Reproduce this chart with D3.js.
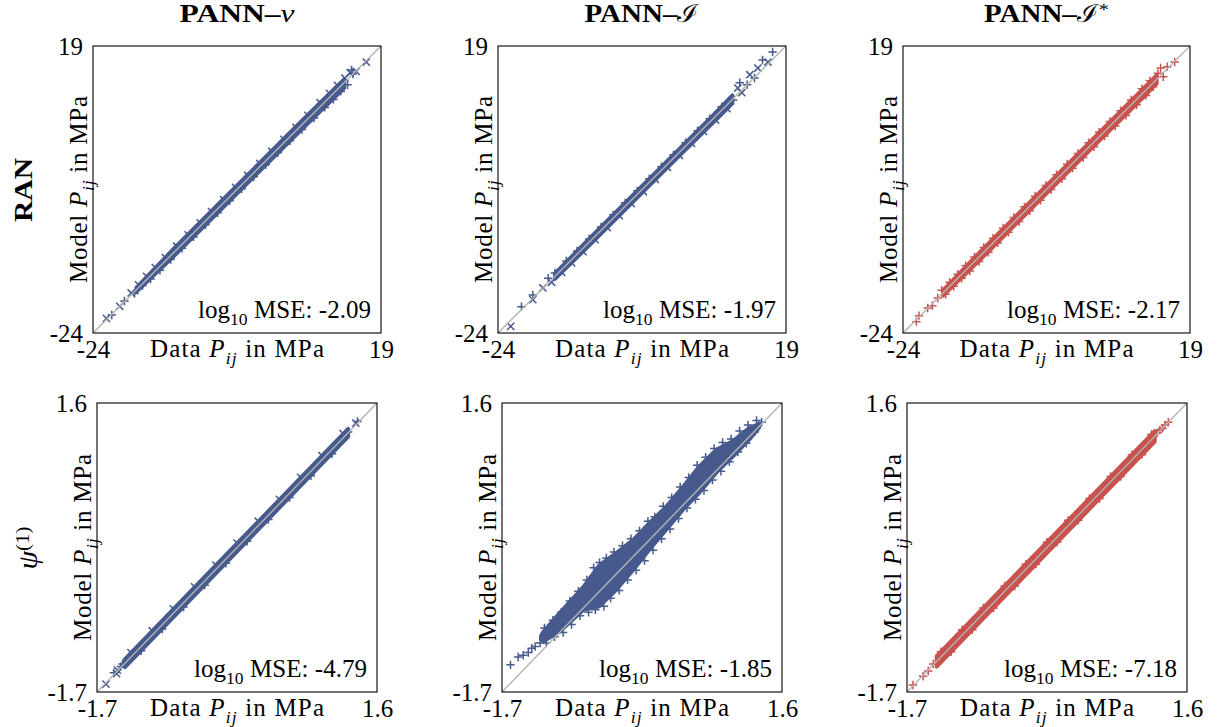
<!DOCTYPE html>
<html><head><meta charset="utf-8">
<script src="https://cdn.jsdelivr.net/npm/d3@7"></script>
<style>
body{margin:0;background:#fff}
svg{display:block}
</style>
</head><body>
<svg id="chart" width="1218" height="727" font-family="Liberation Serif, serif"></svg>
<script>
// ---------------- DATA ----------------
const colTitles = ["PANN–ν", "PANN–ℐ", "PANN–ℐ*"];
const rowTitles = ["RAN", "ψ(1)"];
const topDomain = [-24, 19];
const bottomDomain = [-1.7, 1.6];
const topTicks = [-24, 19];
const bottomTicks = [-1.7, 1.6];
const mseValues = [-2.09, -1.97, -2.17, -4.79, -1.85, -7.18];

// Panel 1: RAN / PANN-nu  (dense band core + fringe points)
const p1BandX  = [-17.5, -12, -6, 0, 6, 10, 13.5];
const p1BandLo = [-17.8, -12.55, -6.6, -0.6, 5.35, 9.3, 12.7];
const p1BandHi = [-17.2, -11.45, -5.4, 0.6, 6.6, 10.6, 14.0];
const p1Data  = [-22.0,-21.2,-20.0,-19.3,-18.3,-17.8,-17.2,-16.6,-16.0,-15.4,-14.7,-14.0,-13.2,-12.4,-11.5,-10.7,-9.8,-9.0,-8.0,-7.2,-6.3,-5.4,-4.5,-3.6,-2.7,-1.8,-0.9,0.0,0.9,1.8,2.7,3.6,4.5,5.4,6.3,7.2,8.1,9.0,9.9,10.6,11.3,11.9,12.5,13.0,13.6,14.0,14.4,14.8,15.3,14.6,16.8];
const p1Model = [-21.8,-21.3,-20.0,-19.2,-18.0,-18.1,-16.8,-16.9,-15.5,-15.9,-14.2,-14.6,-12.7,-13.0,-11.0,-11.3,-9.3,-9.6,-7.5,-7.8,-5.8,-6.0,-4.0,-4.2,-2.2,-2.4,-0.4,-0.6,1.4,1.2,3.2,3.0,5.0,4.8,6.8,6.5,8.6,8.2,10.5,9.8,11.9,11.0,13.1,12.2,14.2,13.2,15.0,14.8,15.2,15.4,16.6];

// Panel 2: RAN / PANN-I
const p2BandX  = [-15.5, -10, -4, 2, 8, 11];
const p2BandLo = [-15.9, -10.5, -4.5, 1.5, 7.4, 10.4];
const p2BandHi = [-15.1, -9.5, -3.5, 2.5, 8.5, 11.6];
const p2Data  = [-22.1,-20.5,-18.8,-18.8,-17.3,-16.5,-16.0,-15.5,-14.5,-13.8,-13.0,-12.2,-11.3,-10.4,-9.5,-8.6,-7.7,-6.8,-5.9,-5.0,-4.1,-3.2,-2.3,-1.4,-0.5,0.4,1.3,2.2,3.1,4.0,4.9,5.8,6.7,7.6,8.5,9.4,10.2,11.1,11.8,12.1,12.4,13.2,13.6,14.3,14.8,15.5,16.3,17.0];
const p2Model = [-23.0,-20.05,-19.0,-18.3,-17.25,-15.8,-16.4,-15.0,-14.9,-13.2,-13.5,-11.7,-11.8,-9.9,-10.0,-8.1,-8.2,-6.3,-6.4,-4.5,-4.6,-2.7,-2.8,-0.9,-1.0,0.9,0.8,2.7,2.6,4.5,4.4,6.3,6.2,8.1,7.9,9.9,9.6,10.9,12.7,13.5,12.0,13.2,14.7,14.2,15.7,16.9,16.6,18.1];

// Panel 3: RAN / PANN-I*
const p3BandX  = [-18, -12, -6, 0, 6, 12, 14];
const p3BandLo = [-18.4, -12.6, -6.6, -0.6, 5.4, 11.3, 13.4];
const p3BandHi = [-17.6, -11.4, -5.4, 0.6, 6.6, 12.6, 14.6];
const p3Data  = [-22.0,-21.6,-20.3,-19.6,-18.8,-18.2,-17.6,-17.0,-16.4,-15.8,-15.2,-14.6,-14.0,-13.3,-12.6,-11.9,-11.2,-10.5,-9.8,-9.0,-8.2,-7.4,-6.6,-5.8,-5.0,-4.2,-3.4,-2.6,-1.8,-1.0,-0.2,0.6,1.4,2.2,3.0,3.8,4.6,5.4,6.2,7.0,7.8,8.6,9.4,10.2,11.0,11.8,12.4,13.0,13.5,14.2,14.6,15.0,15.6,16.7];
const p3Model = [-22.3,-21.4,-20.25,-19.9,-18.75,-17.6,-18.2,-16.4,-17.0,-15.2,-15.8,-13.9,-14.7,-12.6,-13.3,-11.2,-11.9,-9.8,-10.5,-8.3,-8.9,-6.7,-7.3,-5.1,-5.7,-3.5,-4.1,-1.9,-2.5,-0.3,-0.9,1.3,0.7,2.9,2.3,4.5,3.9,6.1,5.5,7.7,7.0,9.3,8.6,10.9,10.2,12.6,11.6,13.8,12.9,14.9,15.7,14.4,15.9,16.6];

// Panel 4: psi(1) / PANN-nu
const p4BandX  = [-1.37, 1.26];
const p4BandLo = [-1.415, 1.215];
const p4BandHi = [-1.325, 1.305];
const p4Data  = [-1.594,-1.50,-1.46,-1.42,-1.47,-1.40,-1.30,-1.18,-1.05,-0.93,-0.80,-0.68,-0.55,-0.43,-0.30,-0.18,-0.05,0.07,0.20,0.32,0.45,0.57,0.70,0.82,0.95,1.07,1.20,1.26,1.35,1.37];
const p4Model = [-1.61,-1.48,-1.45,-1.41,-1.49,-1.38,-1.25,-1.23,-1.00,-0.98,-0.75,-0.73,-0.50,-0.48,-0.25,-0.23,0.00,0.02,0.25,0.27,0.50,0.52,0.75,0.77,1.00,1.02,1.25,1.27,1.37,1.39];

// Panel 5: psi(1) / PANN-I  (wide cloud)
const p5BandX  = [-1.24, -1.21, -1.02, -0.74, -0.55, -0.35, -0.15, 0.04, 0.24, 0.44, 0.63, 0.83, 1.03, 1.22, 1.33];
const p5BandLo = [-1.10, -1.12, -1.01, -0.76, -0.72, -0.53, -0.30, -0.07, 0.16, 0.39, 0.58, 0.81, 1.00, 1.19, 1.32];
const p5BandHi = [-1.06, -1.01, -0.80, -0.50, -0.25, -0.11, 0.04, 0.23, 0.42, 0.65, 0.88, 1.07, 1.17, 1.32, 1.36];
const p5Data  = [-1.60,-1.51,-1.45,-1.39,-1.35,-1.31,-1.25,
  -1.20,-1.10,-1.00,-0.90,-0.80,-0.70,-0.62,-0.55,-0.47,-0.38,-0.28,-0.18,-0.08,0.02,0.10,0.20,0.30,0.40,0.50,0.60,0.70,0.80,0.90,1.00,1.10,1.20,1.30,1.36,
  -1.18,-1.08,-0.98,-0.88,-0.78,-0.68,-0.60,-0.50,-0.42,-0.32,-0.22,-0.12,-0.02,0.08,0.18,0.28,0.38,0.48,0.58,0.68,0.78,0.88,0.98,1.08,1.18,1.28];
const p5Model = [-1.39,-1.30,-1.28,-1.25,-1.20,-1.18,-1.14,
  -0.97,-0.88,-0.79,-0.66,-0.55,-0.42,-0.28,-0.22,-0.17,-0.10,-0.03,0.05,0.14,0.25,0.30,0.42,0.52,0.64,0.75,0.89,0.98,1.08,1.15,1.19,1.28,1.35,1.40,1.38,
  -1.14,-1.07,-1.02,-0.93,-0.83,-0.79,-0.76,-0.72,-0.63,-0.54,-0.42,-0.31,-0.20,-0.08,0.05,0.16,0.28,0.40,0.50,0.60,0.72,0.82,0.93,1.04,1.14,1.27];

// Panel 6: psi(1) / PANN-I*
const p6BandX  = [-1.35, 1.22];
const p6BandLo = [-1.41, 1.16];
const p6BandHi = [-1.29, 1.28];
const p6Data  = [-1.63,-1.51,-1.45,-1.39,-1.30,-1.18,-1.05,-0.93,-0.80,-0.68,-0.55,-0.43,-0.30,-0.18,-0.05,0.07,0.20,0.32,0.45,0.57,0.70,0.82,0.95,1.07,1.18,1.25,1.28,1.31,1.34,1.38];
const p6Model = [-1.62,-1.52,-1.46,-1.38,-1.24,-1.24,-0.99,-0.99,-0.74,-0.74,-0.49,-0.49,-0.24,-0.24,0.01,0.01,0.26,0.26,0.51,0.51,0.76,0.76,1.01,1.01,1.24,1.26,1.29,1.31,1.35,1.38];

// ---------------- STYLE / LAYOUT ----------------
const BLUE = "#475a8e", RED = "#c9524e", DIAG = "#b4b4b4";
const FONT = "Liberation Serif, serif";
const FS = 25;
const topY = [46, 333], botY = [403, 692];
const panels = [
  {x0:93,  x1:381,  y:topY, dom:topDomain,    ticks:topTicks,    color:BLUE, mark:"mix", bx:p1BandX, blo:p1BandLo, bhi:p1BandHi, d:p1Data, m:p1Model},
  {x0:498, x1:786,  y:topY, dom:topDomain,    ticks:topTicks,    color:BLUE, mark:"mix", bx:p2BandX, blo:p2BandLo, bhi:p2BandHi, d:p2Data, m:p2Model},
  {x0:903, x1:1190, y:topY, dom:topDomain,    ticks:topTicks,    color:RED,  mark:"+",   bx:p3BandX, blo:p3BandLo, bhi:p3BandHi, d:p3Data, m:p3Model},
  {x0:97,  x1:377,  y:botY, dom:bottomDomain, ticks:bottomTicks, color:BLUE, mark:"mix", bx:p4BandX, blo:p4BandLo, bhi:p4BandHi, d:p4Data, m:p4Model},
  {x0:502, x1:782,  y:botY, dom:bottomDomain, ticks:bottomTicks, color:BLUE, mark:"+",   bx:p5BandX, blo:p5BandLo, bhi:p5BandHi, d:p5Data, m:p5Model},
  {x0:907, x1:1187, y:botY, dom:bottomDomain, ticks:bottomTicks, color:RED,  mark:"+",   bx:p6BandX, blo:p6BandLo, bhi:p6BandHi, d:p6Data, m:p6Model}
];

const svg = d3.select("#chart");

function txt(parent) {
  return parent.append("text").attr("font-family", FONT).attr("fill", "#000");
}
function rich(sel, parts, fs) {
  let shift = 0;
  parts.forEach(p => {
    const ts = sel.append("tspan").attr("font-family", FONT).text(p.t);
    const target = p.sub ? fs * 0.28 : p.sup ? -fs * 0.3 : 0;
    if (target !== shift) { ts.attr("dy", target - shift); shift = target; }
    if (p.sub || p.sup) ts.attr("font-size", fs * 0.7);
    if (p.i) ts.attr("font-style", "italic");
    if (p.b) ts.attr("font-weight", "bold");
  });
  return sel;
}

const markPath = (t, s) => t === "x"
  ? `M${-s},${-s}L${s},${s}M${-s},${s}L${s},${-s}`
  : `M${-s},0L${s},0M0,${-s}L0,${s}`;

panels.forEach((p, i) => {
  const xs = d3.scaleLinear().domain(p.dom).range([p.x0, p.x1]);
  const ys = d3.scaleLinear().domain(p.dom).range([p.y[1], p.y[0]]);
  const g = svg.append("g");
  const clipId = "clip" + i;
  g.append("clipPath").attr("id", clipId).append("rect")
    .attr("x", p.x0).attr("y", p.y[0]).attr("width", p.x1 - p.x0).attr("height", p.y[1] - p.y[0]);
  const inner = g.append("g").attr("clip-path", `url(#${clipId})`);

  // dense band core
  const band = p.bx.map((x, k) => ({x, lo: p.blo[k], hi: p.bhi[k]}));
  inner.append("path").datum(band)
    .attr("d", d3.area().x(d => xs(d.x)).y0(d => ys(d.lo)).y1(d => ys(d.hi)))
    .attr("fill", p.color).attr("stroke", p.color).attr("stroke-width", 4).attr("stroke-linejoin", "round");

  // markers
  const pts = p.d.map((x, k) => ({x, y: p.m[k], k}));
  inner.selectAll("path.pt").data(pts).join("path").attr("class", "pt")
    .attr("transform", d => `translate(${xs(d.x)},${ys(d.y)})`)
    .attr("d", d => {
      const t = p.mark === "mix" ? (d.k % 2 ? "+" : "x") : p.mark;
      return markPath(t, t === "x" ? 3.6 : 4.2);
    })
    .attr("fill", "none").attr("stroke", p.color).attr("stroke-width", 1.5);

  // diagonal reference
  inner.append("line")
    .attr("x1", xs(p.dom[0])).attr("y1", ys(p.dom[0]))
    .attr("x2", xs(p.dom[1])).attr("y2", ys(p.dom[1]))
    .attr("stroke", DIAG).attr("stroke-width", 1.4);

  // frame
  g.append("rect").attr("x", p.x0).attr("y", p.y[0]).attr("width", p.x1 - p.x0).attr("height", p.y[1] - p.y[0])
    .attr("fill", "none").attr("stroke", "#000").attr("stroke-width", 1.1);

  // axes (tick labels only)
  const fmt = d => String(d);
  const ax = g.append("g").attr("transform", `translate(0,${p.y[1]})`)
    .call(d3.axisBottom(xs).tickValues(p.ticks).tickSize(0).tickPadding(7).tickFormat(fmt));
  const ay = g.append("g").attr("transform", `translate(${p.x0},0)`)
    .call(d3.axisLeft(ys).tickValues(p.ticks).tickSize(0).tickPadding(10).tickFormat(fmt));
  [ax, ay].forEach(a => {
    a.attr("font-family", FONT).attr("font-size", FS);
    a.select(".domain").remove();
    a.selectAll("text").attr("font-size", FS).attr("font-family", FONT).attr("fill", "#000");
  });

  const cx = (p.x0 + p.x1) / 2, cy = (p.y[0] + p.y[1]) / 2;
  // x label
  rich(txt(g).attr("x", cx).attr("y", p.y[1] + 24).attr("text-anchor", "middle")
    .attr("font-size", FS).attr("textLength", 174).attr("lengthAdjust", "spacing"),
    [{t:"Data "}, {t:"P", i:true}, {t:"ij", i:true, sub:true}, {t:" in MPa"}], FS);
  // y label
  rich(txt(g).attr("transform", `translate(${p.x0 - 6},${cy}) rotate(-90)`).attr("text-anchor", "middle")
    .attr("font-size", FS).attr("textLength", 187).attr("lengthAdjust", "spacing"),
    [{t:"Model "}, {t:"P", i:true}, {t:"ij", i:true, sub:true}, {t:" in MPa"}], FS);
  // MSE
  rich(txt(g).attr("x", p.x1 - 10).attr("y", p.y[1] - 15).attr("text-anchor", "end")
    .attr("font-size", FS).attr("textLength", 173).attr("lengthAdjust", "spacing"),
    [{t:"log"}, {t:"10", sub:true}, {t:" MSE: " + mseValues[i].toFixed(2)}], FS);
});

// column titles
const titleParts = [
  [{t:"PANN–", b:true}, {t:"ν", i:true}],
  [{t:"PANN–", b:true}, {t:"ℐ"}],
  [{t:"PANN–", b:true}, {t:"ℐ"}, {t:"*", sup:true}]
];
const titleWidths = [115, 115, 125];
[0, 1, 2].forEach(c => {
  const p = panels[c];
  rich(txt(svg).attr("x", (p.x0 + p.x1) / 2).attr("y", 22).attr("text-anchor", "middle")
    .attr("font-size", 25).attr("textLength", titleWidths[c]).attr("lengthAdjust", "spacingAndGlyphs"),
    titleParts[c], 25);
});

// row titles
rich(txt(svg).attr("transform", `translate(32,190) rotate(-90)`).attr("text-anchor", "middle")
  .attr("font-size", 26).attr("font-weight", "bold").attr("textLength", 64).attr("lengthAdjust", "spacingAndGlyphs"),
  [{t:rowTitles[0]}], 26);
rich(txt(svg).attr("transform", `translate(37,548) rotate(-90)`).attr("text-anchor", "middle")
  .attr("font-size", 28).attr("textLength", 43).attr("lengthAdjust", "spacingAndGlyphs"),
  [{t:"ψ", i:true}, {t:"(1)", sup:true}], 28);
</script>
</body></html>
